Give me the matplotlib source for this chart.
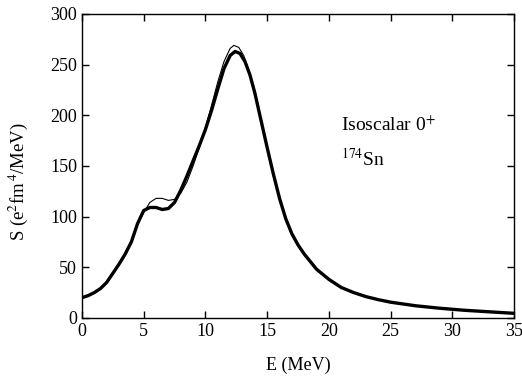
import matplotlib
matplotlib.use("Agg")
import matplotlib.pyplot as plt

plt.rcParams['font.family'] = ['Liberation Serif', 'DejaVu Serif']
plt.rcParams['mathtext.fontset'] = 'stix'

# thick curve
e_thick = [0, 0.5, 1, 1.5, 2, 2.5, 3, 3.5, 4, 4.5, 5, 5.5, 6, 6.5, 7, 7.5, 8, 8.5, 9, 9.5,
           10, 10.5, 11, 11.5, 12, 12.4, 12.8, 13.2, 13.6, 14, 14.5, 15, 15.5, 16, 16.5,
           17, 17.5, 18, 19, 20, 21, 22, 23, 24, 25, 27, 29, 31, 33, 35]
s_thick = [20, 22, 25, 29, 35, 44, 53, 63, 75, 93, 106, 109, 109, 107, 108, 114, 126, 140, 155, 170,
           186, 205, 226, 246, 259, 263, 261, 253, 240, 222, 195, 168, 142, 118, 98,
           83, 72, 63, 48, 38, 30, 25, 21, 18, 15.5, 12, 9.5, 7.5, 6, 4.5]

# thin curve
e_thin = [0, 0.5, 1, 1.5, 2, 2.5, 3, 3.5, 4, 4.5, 5, 5.5, 6, 6.5, 7, 7.5, 8, 8.5, 9, 9.5,
          10, 10.5, 11, 11.5, 12, 12.3, 12.7, 13.1, 13.5, 14, 14.5, 15, 15.5, 16, 16.5,
          17, 17.5, 18, 19, 20, 21, 22, 23, 24, 25, 27, 29, 31, 33, 35]
s_thin = [20, 22, 25, 29, 35, 44, 53, 63, 75, 92, 104, 114, 118, 118, 116, 117, 123, 134, 150, 168,
          188, 210, 233, 253, 266, 269, 267, 259, 245, 224, 196, 168, 142, 118, 98,
          83, 72, 63, 48, 38, 30, 25, 21, 18, 15.5, 12, 9.5, 7.5, 6, 4.5]

fig = plt.figure(figsize=(5.22, 3.78), dpi=100)
ax = fig.add_axes([0.157, 0.159, 0.828, 0.804])

ax.plot(e_thick, s_thick, color='black', lw=2.4)
ax.plot(e_thin, s_thin, color='black', lw=0.8)

ax.set_xlim(0, 35)
ax.set_ylim(0, 300)
ax.set_xticks(range(0, 36, 5))
ax.set_yticks(range(0, 301, 50))
ax.tick_params(direction='in', top=True, right=True, length=5, width=1, labelsize=13)
for sp in ax.spines.values():
    sp.set_linewidth(1)

ax.set_xlabel('E (MeV)', fontsize=13)
ax.xaxis.set_label_coords(0.5, -0.128)
ax.set_ylabel(r'S (e$^{2}$fm$^{\,4}$/MeV)', fontsize=13.5)
ax.yaxis.set_label_coords(-0.12, 0.45)

ax.text(21.0, 184, r'Isoscalar 0$^{+}$', fontsize=14)
ax.text(21.0, 150, r'$^{174}$Sn', fontsize=14)

fig.savefig('out.png', dpi=100)
